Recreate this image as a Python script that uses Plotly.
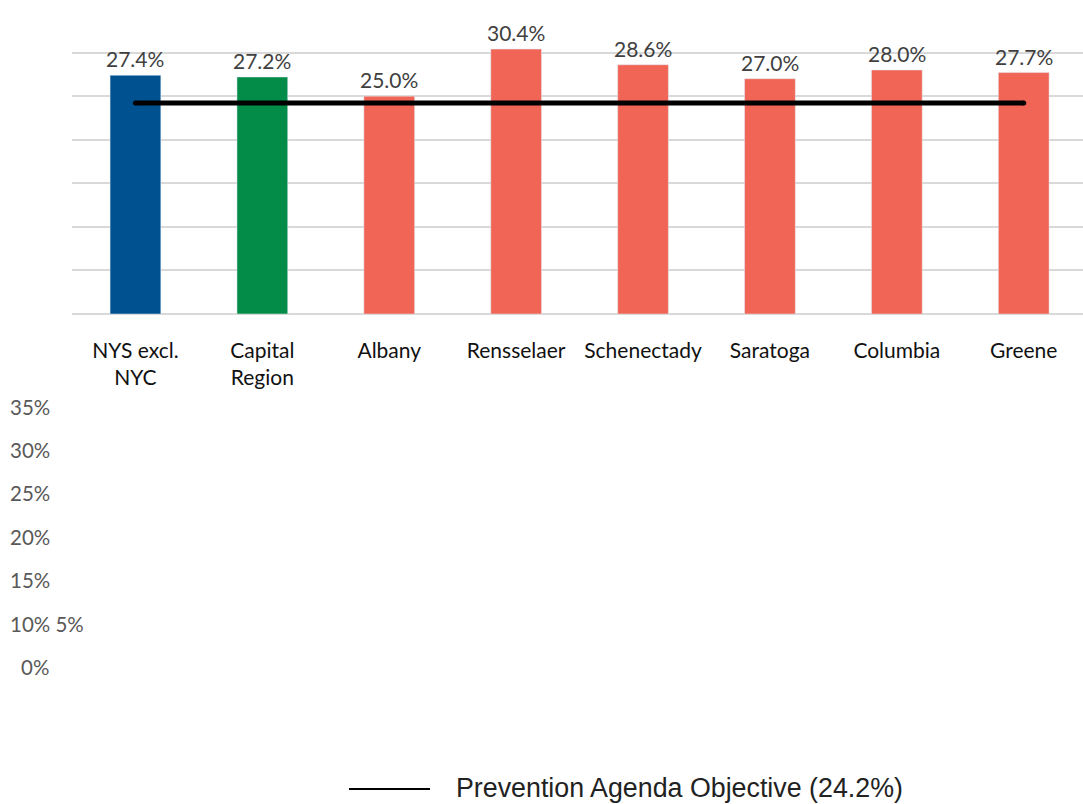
import plotly.graph_objects as go

# Share of adults (%) by area
categories = ["NYS excl.<br>NYC", "Capital<br>Region", "Albany", "Rensselaer",
              "Schenectady", "Saratoga", "Columbia", "Greene"]
values = [27.4, 27.2, 25.0, 30.4, 28.6, 27.0, 28.0, 27.7]
bar_colors = ["#00518F", "#038C47", "#F06555", "#F06555",
              "#F06555", "#F06555", "#F06555", "#F06555"]

objective = 24.2
objective_label = "Prevention Agenda Objective (24.2%)"

# Value-axis labels as they appear stacked beneath the chart
side_labels = ["35%", "30%", "25%", "20%", "15%", "10% 5%", "0%"]

W, H = 1083, 804
ML, MR, MT, MB = 72, 0, 9, 490
PW, PH = W - ML - MR, H - MT - MB


def px_x(px):
    return (px - ML) / PW


def px_y(py):
    return (H - MB - py) / PH


LABEL_FONT = "Lato, Calibri, sans-serif"

fig = go.Figure()

fig.add_trace(go.Bar(
    x=categories, y=values, marker_color=bar_colors, width=0.4,
    hoverinfo="skip", showlegend=False,
))

fig.add_trace(go.Scatter(
    x=[categories[0], categories[-1]], y=[objective, objective],
    mode="lines+markers", line=dict(color="black", width=5),
    marker=dict(color="black", size=5), showlegend=False, hoverinfo="skip",
))

annotations = []
for c, v in zip(categories, values):
    annotations.append(dict(
        x=c, y=v, xref="x", yref="y", text=f"{v:.1f}%", showarrow=False,
        yanchor="bottom", yshift=2,
        font=dict(family=LABEL_FONT, size=21, color="#404040"),
    ))

side_font = dict(family=LABEL_FONT, size=20.5, color="#595959")
for i, t in enumerate(side_labels):
    py = 406.5 + i * 43.4
    if t == "0%":
        annotations.append(dict(
            x=px_x(51), y=px_y(py), xref="paper", yref="paper", text=t,
            showarrow=False, xanchor="right", yanchor="middle", font=side_font,
        ))
    else:
        annotations.append(dict(
            x=px_x(8), y=px_y(py), xref="paper", yref="paper", text=t,
            showarrow=False, xanchor="left", yanchor="middle", font=side_font,
        ))

# Legend entry for the objective line
annotations.append(dict(
    x=px_x(454), y=px_y(788), xref="paper", yref="paper", text=objective_label,
    showarrow=False, xanchor="left", yanchor="middle",
    font=dict(family="Liberation Sans, Arial, sans-serif", size=26.8, color="#222222"),
))

shapes = [dict(
    type="line", xref="paper", yref="paper",
    x0=px_x(349), x1=px_x(430), y0=px_y(789), y1=px_y(789),
    line=dict(color="black", width=2),
)]

fig.update_layout(
    width=W, height=H,
    margin=dict(l=ML, r=MR, t=MT, b=MB),
    paper_bgcolor="white", plot_bgcolor="white",
    showlegend=False,
    annotations=annotations, shapes=shapes,
    xaxis=dict(
        type="category", range=[-0.5, 7.467], showgrid=False, zeroline=False,
        showline=False, ticks="", ticklabelstandoff=22,
        tickfont=dict(family=LABEL_FONT, size=21, color="#111111"),
        fixedrange=True,
    ),
    yaxis=dict(
        range=[0, 35], dtick=5, showticklabels=False, gridcolor="#D9D9D9",
        gridwidth=1.5, zeroline=True, zerolinecolor="#D9D9D9", zerolinewidth=1.5,
        fixedrange=True,
    ),
)

fig.write_html("out.html")
